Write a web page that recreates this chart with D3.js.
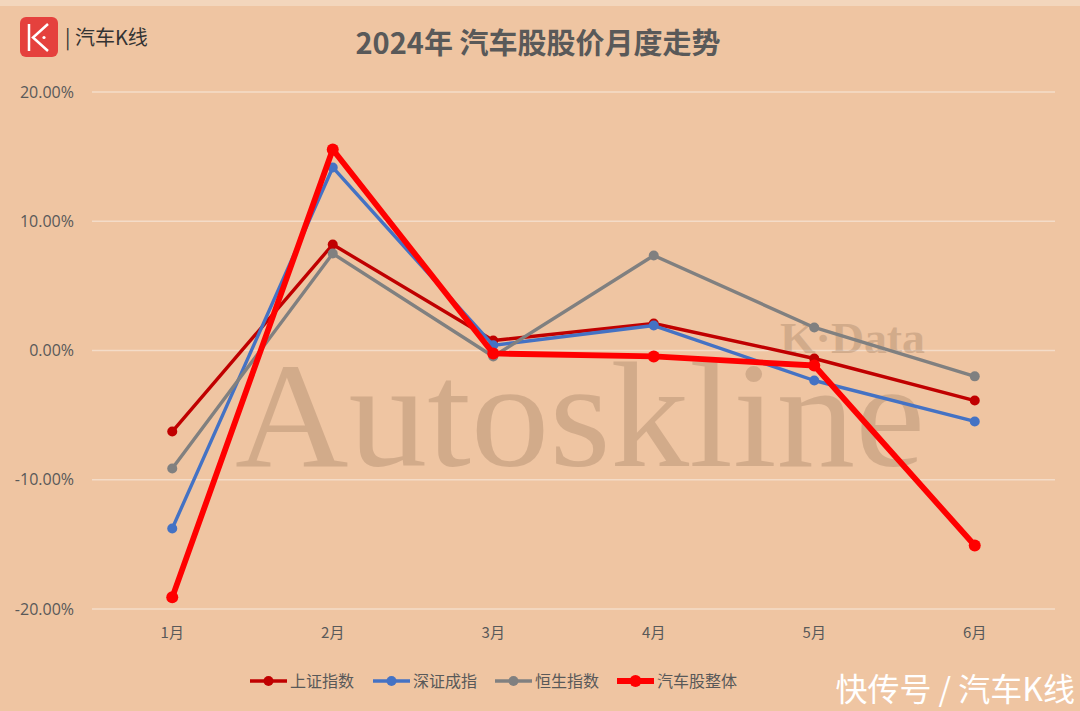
<!DOCTYPE html>
<html><head><meta charset="utf-8">
<script src="https://cdn.jsdelivr.net/npm/d3@7/dist/d3.min.js"></script>
<style>body{margin:0;background:#EFC5A2;}svg{display:block;}</style>
</head><body>
<svg id="c" width="1080" height="711"></svg>
<script>
const months = ["1月","2月","3月","4月","5月","6月"];
const yTicks = [-0.2,-0.1,0,0.1,0.2];
const seriesNames = ["上证指数","深证成指","恒生指数","汽车股整体"];
const shanghai = [-0.0627,0.082,0.0077,0.0209,-0.0062,-0.0387];
const shenzhen = [-0.1377,0.1416,0.004,0.0193,-0.0232,-0.0549];
const hangseng = [-0.0913,0.075,-0.0046,0.0735,0.0178,-0.020];
const autoAll  = [-0.191,0.1555,-0.0023,-0.0046,-0.0116,-0.1509];
const colors = ["#C00000","#4472C4","#808080","#FF0000"];
const widths = [3.4,3.4,3.4,5.8];
const radii = [5,5,5,6];

const svg = d3.select("#c");
const W=1080,H=711;
svg.append("rect").attr("width",W).attr("height",H).attr("fill","#EFC5A2");
svg.append("rect").attr("width",W).attr("height",6).attr("fill","#F3D6BC");

const x = d3.scaleBand().domain(months).range([92,1055]);
const y = d3.scaleLinear().domain([-0.2,0.2]).range([609,92]);

// gridlines
svg.append("g").selectAll("line").data(yTicks).join("line")
  .attr("x1",92).attr("x2",1055).attr("y1",d=>y(d)).attr("y2",d=>y(d))
  .attr("stroke","#F4DCC8").attr("stroke-width",1.5);

// y axis labels
const yAxis = d3.axisLeft(y).tickValues(yTicks).tickFormat(d=>(d*100).toFixed(2)+"%").tickSize(0).tickPadding(0);
const yg = svg.append("g").attr("transform","translate(74,0)").call(yAxis);
yg.select(".domain").remove();
yg.selectAll("text").attr("font-family","'Open Sans',sans-serif").attr("font-size",16).attr("fill","#595959");

// x axis labels
const xAxis = d3.axisBottom(x).tickSize(0).tickPadding(0);
const xg = svg.append("g").attr("transform","translate(0,627)").call(xAxis);
xg.select(".domain").remove();
xg.selectAll("text").attr("font-family","'Noto Sans CJK SC',sans-serif").attr("font-size",15).attr("fill","#595959");

// watermark (behind lines)
svg.append("text").attr("x",235).attr("y",466).attr("textLength",690).attr("lengthAdjust","spacingAndGlyphs")
  .attr("font-family","'Liberation Serif',serif").attr("font-size",150)
  .attr("fill","#8a6a50").attr("opacity",0.28).text("Autoskline");
svg.append("text").attr("x",780).attr("y",353).attr("textLength",145).attr("lengthAdjust","spacingAndGlyphs")
  .attr("font-family","'Liberation Serif',serif").attr("font-size",44).attr("font-weight","bold")
  .attr("fill","#8a6a50").attr("opacity",0.28).text("K·Data");

// lines
const data = [shanghai,shenzhen,hangseng,autoAll];
const line = d3.line().x((d,i)=>x(months[i])+x.bandwidth()/2).y(d=>y(d));
data.forEach((s,k)=>{
  const g = svg.append("g");
  g.append("path").attr("d",line(s)).attr("fill","none").attr("stroke",colors[k])
    .attr("stroke-width",widths[k]).attr("stroke-linejoin","round").attr("stroke-linecap","round");
  g.selectAll("circle").data(s).join("circle")
    .attr("cx",(d,i)=>x(months[i])+x.bandwidth()/2).attr("cy",d=>y(d))
    .attr("r",radii[k]).attr("fill",colors[k]);
});

// title
svg.append("text").attr("x",538).attr("y",54).attr("text-anchor","middle")
  .attr("font-family","'Noto Sans CJK SC',sans-serif").attr("font-weight","bold").attr("font-size",29)
  .attr("fill","#595959").text("2024年 汽车股股价月度走势");

// logo
svg.append("rect").attr("x",20).attr("y",17).attr("width",38).attr("height",40).attr("rx",6).attr("fill","#E5413D");
svg.append("path").attr("d","M29,24 L29,51 M48,24 L33,37.5 L48,51").attr("stroke","#fff").attr("stroke-width",2.5).attr("fill","none");
svg.append("circle").attr("cx",44).attr("cy",37.5).attr("r",1.6).attr("fill","#fff");
svg.append("text").attr("x",65).attr("y",45).attr("font-family","'Noto Sans CJK SC',sans-serif")
  .attr("font-size",20).attr("fill","#333").text("| 汽车K线");

// legend
const lx = [250,373,495,617];
seriesNames.forEach((n,k)=>{
  const g = svg.append("g").attr("transform",`translate(${lx[k]},681)`);
  g.append("line").attr("x1",0).attr("x2",37).attr("stroke",colors[k]).attr("stroke-width",widths[k]);
  g.append("circle").attr("cx",18.5).attr("r",radii[k]).attr("fill",colors[k]);
  g.append("text").attr("x",40).attr("y",6).attr("font-family","'Noto Sans CJK SC',sans-serif")
    .attr("font-size",16).attr("fill","#595959").text(n);
});

// bottom-right source
svg.append("text").attr("x",1075).attr("y",701).attr("text-anchor","end")
  .attr("font-family","'Noto Sans CJK SC',sans-serif").attr("font-size",32).attr("fill","#ffffff")
  .text("快传号 / 汽车K线");
</script>
</body></html>
